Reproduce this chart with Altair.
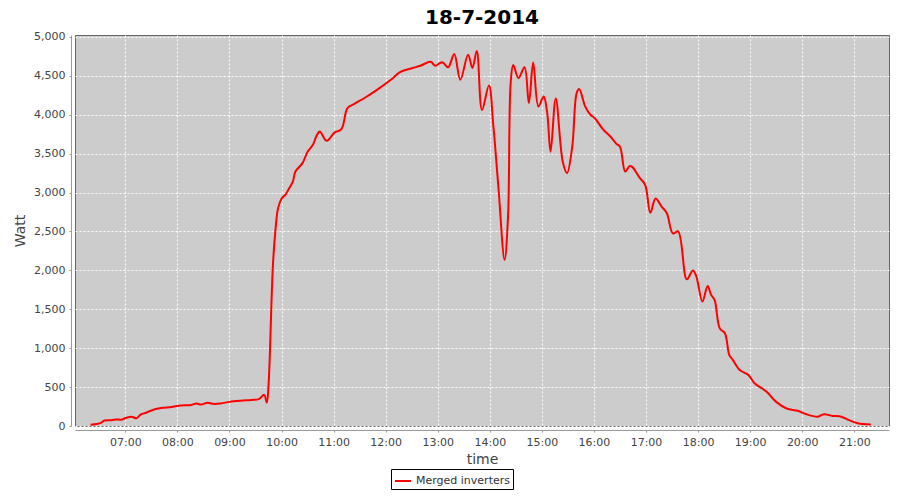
import altair as alt
import pandas as pd

times = ["06:20", "06:27", "06:32", "06:36", "06:44", "06:50", "06:55", "07:01", "07:07", "07:13",
         "07:18", "07:24", "07:30", "07:41", "07:53", "08:04", "08:16", "08:22", "08:27", "08:35",
         "08:41", "08:50", "09:00", "09:13", "09:25", "09:34", "09:40", "09:43", "09:45", "09:50",
         "09:53", "09:56", "10:00", "10:05", "10:08", "10:13", "10:16", "10:24", "10:30", "10:36",
         "10:40", "10:44", "10:52", "11:01", "11:09", "11:16", "11:24", "11:37", "11:50", "12:06",
         "12:17", "12:31", "12:40", "12:52", "12:57", "13:05", "13:12", "13:19", "13:26", "13:35",
         "13:40", "13:45", "13:51", "13:59", "14:04", "14:10", "14:17", "14:21", "14:24", "14:27",
         "14:33", "14:40", "14:45", "14:50", "14:56", "15:02", "15:06", "15:10", "15:16", "15:24",
         "15:29", "15:35", "15:40", "15:43", "15:50", "15:56", "16:01", "16:11", "16:19", "16:26",
         "16:30", "16:36", "16:41", "16:44", "16:53", "16:59", "17:05", "17:11", "17:18", "17:24",
         "17:31", "17:37", "17:47", "17:54", "17:58", "18:05", "18:11", "18:15", "18:19", "18:25",
         "18:31", "18:36", "18:40", "18:48", "18:58", "19:05", "19:19", "19:30", "19:42", "19:55",
         "20:05", "20:18", "20:25", "20:35", "20:45", "20:54", "21:04", "21:19"]
watts = [15, 25, 40, 70, 75, 85, 80, 105, 120, 100,
         150, 170, 200, 230, 245, 265, 270, 290, 275, 300,
         285, 290, 310, 325, 335, 345, 400, 300, 520, 2050,
         2520, 2800, 2920, 2980, 3040, 3140, 3270, 3375, 3525, 3610,
         3720, 3785, 3665, 3770, 3815, 4085, 4140, 4225, 4320, 4450,
         4550, 4600, 4630, 4680, 4630, 4675, 4610, 4780, 4450, 4770,
         4600, 4820, 4060, 4375, 3870, 3055, 2135, 2690, 4405, 4640,
         4470, 4610, 4150, 4670, 4105, 4235, 4040, 3525, 4210, 3400,
         3250, 3590, 4275, 4330, 4105, 4000, 3955, 3805, 3720, 3625,
         3590, 3270, 3340, 3330, 3185, 3100, 2740, 2925, 2820, 2735,
         2475, 2500, 1885, 2000, 1920, 1600, 1800, 1685, 1620, 1255,
         1190, 910, 850, 720, 655, 550, 440, 310, 225, 195,
         150, 120, 150, 130, 120, 75, 35, 20]
series_name = "Merged inverters"
title_text = "18-7-2014"
y_ticks = [0, 500, 1000, 1500, 2000, 2500, 3000, 3500, 4000, 4500, 5000]
x_tick_hours = list(range(7, 22))

df = pd.DataFrame({
    "time": ["2014-07-18T" + t + ":00" for t in times],
    "watt": watts,
    "series": [series_name] * len(times),
})

FONT = "DejaVu Sans"

chart = alt.Chart(df).mark_line(
    interpolate="catmull-rom", strokeWidth=2, color="#ff0000"
).encode(
    x=alt.X(
        "time:T",
        title="time",
        scale=alt.Scale(domain=[
            alt.DateTime(year=2014, month=7, date=18, hours=6, minutes=2),
            alt.DateTime(year=2014, month=7, date=18, hours=21, minutes=40),
        ]),
        axis=alt.Axis(
            values=[alt.DateTime(year=2014, month=7, date=18, hours=h) for h in x_tick_hours],
            format="%H:%M",
            offset=4,
            tickSize=2,
            labelPadding=4,
            titlePadding=5,
        ),
    ),
    y=alt.Y(
        "watt:Q",
        title="Watt",
        scale=alt.Scale(domain=[0, 5025], nice=False, zero=True),
        axis=alt.Axis(
            values=y_ticks,
            format=",d",
            offset=4,
            tickSize=2,
            labelPadding=4,
            titlePadding=6,
        ),
    ),
    color=alt.Color(
        "series:N",
        scale=alt.Scale(range=["#ff0000"]),
        legend=alt.Legend(
            title=None,
            orient="none",
            legendX=316,
            legendY=434,
            strokeColor="#000000",
            fillColor="#ffffff",
            padding=3,
            symbolType="stroke",
            symbolStrokeWidth=2,
            symbolSize=256,
            labelFont=FONT,
            labelFontSize=11,
            labelColor="#333333",
        ),
    ),
).properties(
    width=814,
    height=391,
    autosize=alt.AutoSizeParams(type="none"),
    padding={"left": 67, "top": 27, "right": 3, "bottom": 66},
    title=alt.TitleParams(
        title_text, font=FONT, fontSize=20, fontWeight="bold", color="#000000",
        anchor="middle", offset=3,
    ),
).configure(
    background="#ffffff",
).configure_view(
    fill="#cccccc", stroke="#666666", strokeWidth=1,
).configure_axis(
    labelFont=FONT, labelFontSize=11, labelColor="#444444",
    titleFont=FONT, titleFontSize=14, titleFontWeight="normal", titleColor="#444444",
    domainColor="#999999", tickColor="#999999",
    gridColor="#ffffff", gridDash=[2, 2], gridWidth=1,
)

chart.save("out.html", embed_options={"renderer": "svg", "actions": False})
